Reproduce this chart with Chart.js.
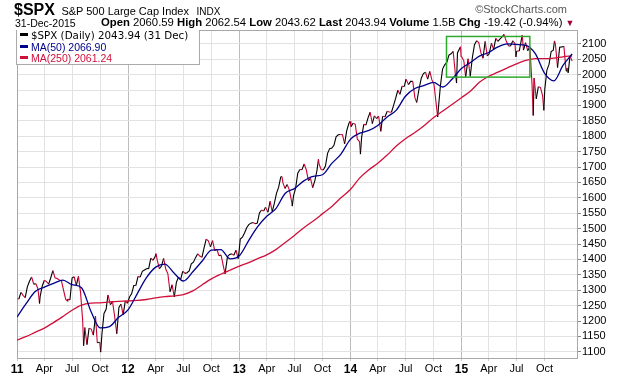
<!DOCTYPE html>
<html>
<head>
<meta charset="utf-8">
<script src="https://cdn.jsdelivr.net/npm/chart.js@4.4.1/dist/chart.umd.min.js"></script>
<style>
  html, body { margin: 0; padding: 0; background: #fff; }
  #wrap { position: relative; width: 620px; height: 376px; font-family: "Liberation Sans", Arial, sans-serif; color: #000; }
  #wrap canvas { position: absolute; left: 0; top: 0; }
  .t { position: absolute; white-space: nowrap; }
  .legend { position: absolute; left: 16px; top: 30px; width: 182px; height: 34px; background: #fff;
            border: 1px solid #aaa; border-top: none; }
  .legend div { height: 11.5px; line-height: 11.5px; white-space: nowrap; }
  .legend i { display: inline-block; width: 8px; height: 3px; margin: 0 3px 0 3px; vertical-align: 3px; }
</style>
</head>
<body>
<div id="wrap">
  <canvas id="chart" width="620" height="376"></canvas>
  <div class="t" style="left:14px; top:1px;">
    <b style="font-size:16px">$SPX</b>
    <span style="font-size:11px; margin-left:2px">S&amp;P 500 Large Cap Index</span>
    <span style="font-size:10px; margin-left:3px">INDX</span>
  </div>
  <div class="t" style="right:53px; top:3px; font-size:11px; color:#555;">&copy;StockCharts.com</div>
  <div class="t" style="left:15px; top:17px; font-size:10.5px;">31-Dec-2015</div>
  <div class="t" style="left:101px; top:16px; font-size:11.3px;">
    <b>Open</b> 2060.59 <b>High</b> 2062.54 <b>Low</b> 2043.62 <b>Last</b> 2043.94 <b>Volume</b> 1.5B <b>Chg</b> -19.42 (-0.94%) <span style="color:#a00033;font-size:9px">&#9660;</span>
  </div>
  <div class="legend">
    <div style="font-family:'DejaVu Sans',sans-serif; font-size:10.3px;"><i style="background:#000"></i>$SPX (Daily) 2043.94 (31 Dec)</div>
    <div style="font-size:10.5px; color:#00008b;"><i style="background:#00008b"></i>MA(50) 2066.90</div>
    <div style="font-size:10.5px; color:#d0103a;"><i style="background:#d0103a"></i>MA(250) 2061.24</div>
  </div>
</div>
<script>
// daily closes (weekly samples plus turning points)
const priceDates = [
  '2011-01-03','2011-01-07','2011-01-14','2011-01-21','2011-01-28','2011-02-04','2011-02-11','2011-02-18','2011-02-25',
  '2011-03-04','2011-03-11','2011-03-16','2011-03-18','2011-03-25','2011-04-01','2011-04-08','2011-04-15','2011-04-21',
  '2011-04-29','2011-05-06','2011-05-13','2011-05-20','2011-05-27','2011-06-03','2011-06-10','2011-06-15','2011-06-17',
  '2011-06-24','2011-07-01','2011-07-08','2011-07-15','2011-07-22','2011-07-29','2011-08-05','2011-08-08','2011-08-12',
  '2011-08-19','2011-08-26','2011-09-02','2011-09-09','2011-09-16','2011-09-22','2011-09-30','2011-10-03','2011-10-07',
  '2011-10-14','2011-10-21','2011-10-27','2011-11-04','2011-11-11','2011-11-18','2011-11-25','2011-12-02','2011-12-09',
  '2011-12-16','2011-12-23','2011-12-30',
  '2012-01-06','2012-01-13','2012-01-20','2012-01-27','2012-02-03','2012-02-10','2012-02-17','2012-02-24','2012-03-02',
  '2012-03-09','2012-03-16','2012-03-23','2012-03-30','2012-04-02','2012-04-06','2012-04-13','2012-04-20','2012-04-27',
  '2012-05-04','2012-05-11','2012-05-18','2012-05-25','2012-06-01','2012-06-08','2012-06-15','2012-06-22','2012-06-29',
  '2012-07-06','2012-07-13','2012-07-20','2012-07-27','2012-08-03','2012-08-10','2012-08-17','2012-08-24','2012-08-31',
  '2012-09-07','2012-09-14','2012-09-21','2012-09-28','2012-10-05','2012-10-12','2012-10-19','2012-10-26','2012-11-02',
  '2012-11-09','2012-11-15','2012-11-23','2012-11-30','2012-12-07','2012-12-14','2012-12-21','2012-12-28','2012-12-31',
  '2013-01-04','2013-01-11','2013-01-18','2013-01-25','2013-02-01','2013-02-08','2013-02-15','2013-02-22','2013-03-01',
  '2013-03-08','2013-03-15','2013-03-22','2013-03-28','2013-04-05','2013-04-12','2013-04-19','2013-04-26','2013-05-03',
  '2013-05-10','2013-05-17','2013-05-21','2013-05-24','2013-05-31','2013-06-07','2013-06-14','2013-06-21','2013-06-24',
  '2013-06-28','2013-07-05','2013-07-12','2013-07-19','2013-07-26','2013-08-02','2013-08-09','2013-08-16','2013-08-23',
  '2013-08-30','2013-09-06','2013-09-13','2013-09-18','2013-09-20','2013-09-27','2013-10-04','2013-10-11','2013-10-18',
  '2013-10-25','2013-11-01','2013-11-08','2013-11-15','2013-11-22','2013-11-29','2013-12-06','2013-12-13','2013-12-20',
  '2013-12-27','2013-12-31',
  '2014-01-03','2014-01-10','2014-01-17','2014-01-24','2014-01-31','2014-02-03','2014-02-07','2014-02-14','2014-02-21',
  '2014-02-28','2014-03-07','2014-03-14','2014-03-21','2014-03-28','2014-04-04','2014-04-11','2014-04-17','2014-04-25',
  '2014-05-02','2014-05-09','2014-05-16','2014-05-23','2014-05-30','2014-06-06','2014-06-13','2014-06-20','2014-06-27',
  '2014-07-03','2014-07-11','2014-07-18','2014-07-25','2014-08-01','2014-08-07','2014-08-15','2014-08-22','2014-08-29',
  '2014-09-05','2014-09-12','2014-09-19','2014-09-26','2014-10-03','2014-10-10','2014-10-15','2014-10-17','2014-10-24',
  '2014-10-31','2014-11-07','2014-11-14','2014-11-21','2014-11-28','2014-12-05','2014-12-12','2014-12-16','2014-12-19',
  '2014-12-29','2014-12-31',
  '2015-01-02','2015-01-09','2015-01-15','2015-01-23','2015-01-30','2015-02-06','2015-02-13','2015-02-20','2015-02-27',
  '2015-03-06','2015-03-13','2015-03-20','2015-03-27','2015-04-02','2015-04-10','2015-04-17','2015-04-24','2015-05-01',
  '2015-05-08','2015-05-15','2015-05-21','2015-05-29','2015-06-05','2015-06-12','2015-06-19','2015-06-26','2015-06-29',
  '2015-07-02','2015-07-10','2015-07-20','2015-07-24','2015-07-31','2015-08-07','2015-08-14','2015-08-21','2015-08-25',
  '2015-08-28','2015-09-04','2015-09-11','2015-09-18','2015-09-25','2015-09-29','2015-10-02','2015-10-09','2015-10-16',
  '2015-10-23','2015-10-30','2015-11-03','2015-11-06','2015-11-13','2015-11-20','2015-11-27','2015-12-04','2015-12-11',
  '2015-12-14','2015-12-18','2015-12-24','2015-12-31'
];
const priceClose = [
  1271.9,1271.5,1293.2,1283.4,1276.3,1310.9,1329.2,1343.0,1319.9,
  1321.2,1304.3,1256.9,1279.2,1313.8,1332.4,1328.2,1319.7,1337.4,
  1363.6,1340.2,1337.8,1333.3,1331.1,1300.2,1271.0,1265.4,1271.5,
  1268.5,1339.7,1343.8,1316.1,1345.0,1292.3,1199.4,1119.5,1178.8,
  1123.5,1176.8,1174.0,1154.2,1216.0,1129.6,1131.4,1099.2,1155.5,
  1224.6,1238.3,1284.6,1253.2,1263.9,1215.7,1158.7,1244.3,1255.2,
  1219.7,1265.3,1257.6,
  1277.8,1289.1,1315.4,1316.3,1344.9,1342.6,1361.2,1365.7,1369.6,
  1370.9,1404.2,1397.1,1408.5,1419.0,1398.1,1370.3,1378.5,1403.4,
  1369.1,1353.4,1295.2,1317.8,1278.0,1325.7,1342.8,1335.0,1362.2,
  1354.7,1356.8,1362.7,1386.0,1391.0,1405.9,1418.2,1411.1,1406.6,
  1437.9,1465.8,1460.2,1440.7,1460.9,1428.6,1433.2,1411.9,1414.2,
  1379.9,1353.3,1409.2,1416.2,1418.1,1413.6,1430.2,1402.4,1426.2,
  1466.5,1472.1,1486.0,1503.0,1513.2,1517.9,1519.8,1515.6,1518.2,
  1551.2,1560.7,1556.9,1569.2,1553.3,1588.9,1555.3,1582.2,1614.4,
  1633.7,1667.5,1669.2,1649.6,1630.7,1643.4,1626.7,1592.4,1573.1,
  1606.3,1631.9,1680.2,1692.1,1691.7,1709.7,1691.4,1655.8,1663.5,
  1633.0,1655.2,1688.0,1725.5,1709.9,1691.8,1690.5,1703.2,1744.5,
  1759.8,1761.6,1770.6,1798.2,1804.8,1805.8,1805.1,1775.3,1818.3,
  1841.4,1848.4,
  1831.4,1842.4,1838.7,1790.3,1782.6,1741.9,1797.0,1838.6,1836.3,
  1859.5,1878.0,1841.1,1866.5,1857.6,1865.1,1815.7,1864.9,1863.4,
  1881.1,1878.5,1877.9,1900.5,1923.6,1949.4,1936.2,1962.9,1961.0,
  1985.4,1967.6,1978.2,1978.3,1925.2,1909.6,1955.1,1988.4,2003.4,
  2007.7,1985.5,2010.4,1982.9,1967.9,1906.1,1862.5,1886.8,1964.6,
  2018.1,2031.9,2039.8,2063.5,2067.6,2075.4,2002.3,1972.7,2070.7,
  2090.6,2058.9,
  2058.2,2044.8,1992.7,2051.8,1995.0,2055.5,2097.0,2110.3,2104.5,
  2071.3,2053.4,2108.1,2061.0,2067.0,2102.1,2081.2,2117.7,2108.3,
  2116.1,2122.7,2130.8,2107.4,2092.8,2094.1,2110.0,2101.5,2057.6,
  2076.8,2076.6,2128.3,2079.7,2103.8,2077.6,2091.5,1970.9,1867.6,
  1988.9,1921.2,1961.1,1958.0,1931.3,1884.1,1951.4,2014.9,2033.1,
  2075.2,2079.4,2109.8,2099.2,2023.0,2089.2,2090.1,2091.7,2012.4,
  2021.9,2005.6,2061.0,2043.9
];

// moving averages, sampled monthly from the chart
const maDates = [
  '2011-01-01','2011-02-01','2011-03-01','2011-04-01','2011-05-01','2011-06-01','2011-07-01','2011-08-01','2011-09-01','2011-10-01','2011-11-01','2011-12-01',
  '2012-01-01','2012-02-01','2012-03-01','2012-04-01','2012-05-01','2012-06-01','2012-07-01','2012-08-01','2012-09-01','2012-10-01','2012-11-01','2012-12-01',
  '2013-01-01','2013-02-01','2013-03-01','2013-04-01','2013-05-01','2013-06-01','2013-07-01','2013-08-01','2013-09-01','2013-10-01','2013-11-01','2013-12-01',
  '2014-01-01','2014-02-01','2014-03-01','2014-04-01','2014-05-01','2014-06-01','2014-07-01','2014-08-01','2014-09-01','2014-10-01','2014-11-01','2014-12-01',
  '2015-01-01','2015-02-01','2015-03-01','2015-04-01','2015-05-01','2015-06-01','2015-07-01','2015-08-01','2015-09-01','2015-10-01','2015-11-01','2015-12-01',
  '2015-12-31'
];
const ma50 = [
  1213,1258,1295,1310,1322,1333,1318,1308,1232,1178,1182,1212,
  1236,1290,1340,1375,1385,1355,1330,1360,1395,1430,1432,1402,
  1412,1462,1505,1540,1565,1615,1630,1655,1670,1675,1712,1742,
  1790,1810,1818,1835,1862,1885,1930,1955,1965,1975,1960,1985,
  2020,2040,2060,2072,2090,2100,2098,2095,2068,2005,1980,2030,
  2067
];
const ma250 = [
  1138,1150,1163,1177,1195,1215,1235,1252,1258,1259,1262,1264,
  1265,1267,1270,1275,1279,1282,1286,1298,1318,1337,1352,1365,
  1378,1390,1402,1415,1432,1455,1478,1503,1525,1548,1572,1600,
  1627,1665,1690,1712,1738,1768,1792,1812,1835,1860,1882,1903,
  1925,1948,1975,1995,2008,2022,2035,2046,2052,2052,2054,2058,
  2061
];

// axis ticks
const xTickDates = [
  '2011-01-01','2011-04-01','2011-07-01','2011-10-01','2012-01-01','2012-04-01','2012-07-01','2012-10-01',
  '2013-01-01','2013-04-01','2013-07-01','2013-10-01','2014-01-01','2014-04-01','2014-07-01','2014-10-01',
  '2015-01-01','2015-04-01','2015-07-01','2015-10-01'
];
const xTickLabels = ['11','Apr','Jul','Oct','12','Apr','Jul','Oct','13','Apr','Jul','Oct','14','Apr','Jul','Oct','15','Apr','Jul','Oct'];
const yTicks = [1100,1150,1200,1250,1300,1350,1400,1450,1500,1550,1600,1650,1700,1750,1800,1850,1900,1950,2000,2050,2100];

// green annotation box
const boxFrom = '2014-11-13', boxTo = '2015-08-14', boxLow = 1992, boxHigh = 2124;

const dayNum = s => {
  const [y, m, d] = s.split('-').map(Number);
  return (Date.UTC(y, m - 1, d) - Date.UTC(2011, 0, 1)) / 86400000;
};

const pricePoints = priceDates.map((d, i) => ({ x: dayNum(d), y: priceClose[i] }));
const ma50Points = maDates.map((d, i) => ({ x: dayNum(d), y: ma50[i] }));
const ma250Points = maDates.map((d, i) => ({ x: dayNum(d), y: ma250[i] }));

const extras = {
  id: 'extras',
  beforeDatasetsDraw(chart) {
    const { ctx, chartArea: a } = chart;
    ctx.save();
    ctx.strokeStyle = '#a8a8a8';
    ctx.lineWidth = 1;
    ctx.strokeRect(Math.round(a.left) + 0.5, Math.round(a.top) + 0.5, a.width, a.height);
    ctx.restore();
  },
  afterDatasetsDraw(chart) {
    const { ctx, scales: { x, y } } = chart;
    const x0 = x.getPixelForValue(dayNum(boxFrom)), x1 = x.getPixelForValue(dayNum(boxTo));
    const y0 = y.getPixelForValue(boxHigh), y1 = y.getPixelForValue(boxLow);
    ctx.save();
    ctx.strokeStyle = '#2eaa2e';
    ctx.lineWidth = 1.5;
    ctx.strokeRect(x0, y0, x1 - x0, y1 - y0);
    ctx.restore();
  }
};

new Chart(document.getElementById('chart').getContext('2d'), {
  type: 'line',
  data: {
    datasets: [
      {
        label: '$SPX (Daily)',
        data: pricePoints,
        borderWidth: 1.1,
        borderColor: '#000',
        segment: {
          borderColor: c => (c.p1.parsed.y >= c.p0.parsed.y ? '#000' : '#cc0033')
        },
        pointRadius: 0,
        tension: 0,
        order: 2
      },
      {
        label: 'MA(50)',
        data: ma50Points,
        borderWidth: 1.3,
        borderColor: '#00008b',
        pointRadius: 0,
        cubicInterpolationMode: 'monotone',
        order: 0
      },
      {
        label: 'MA(250)',
        data: ma250Points,
        borderWidth: 1.3,
        borderColor: '#d0103a',
        pointRadius: 0,
        cubicInterpolationMode: 'monotone',
        order: 1
      }
    ]
  },
  options: {
    responsive: false,
    animation: false,
    layout: { padding: { left: 17, top: 30, right: 0, bottom: 0 } },
    plugins: { legend: { display: false }, tooltip: { enabled: false } },
    scales: {
      x: {
        type: 'linear',
        min: 0,
        max: 1841,
        afterBuildTicks: s => { s.ticks = xTickDates.map(d => ({ value: dayNum(d) })); },
        afterFit: s => { s.height = 18; },
        ticks: {
          autoSkip: false,
          maxRotation: 0,
          padding: 1,
          color: '#000',
          callback: (v, i) => xTickLabels[i],
          font: c => (c.index % 4 === 0
            ? { family: 'Liberation Sans', size: 12, weight: 'bold' }
            : { family: 'Liberation Sans', size: 11 })
        },
        grid: {
          color: c => (c.index % 4 === 0 ? '#bcbcbc' : '#e2e2e2'),
          tickLength: 3,
          tickColor: '#ccc'
        },
        border: { color: '#a8a8a8' }
      },
      y: {
        position: 'right',
        min: 1080,
        max: 2145,
        afterBuildTicks: s => { s.ticks = yTicks.map(v => ({ value: v })); },
        afterFit: s => { s.width = 43; },
        ticks: {
          padding: 1,
          color: '#000',
          font: { family: 'Liberation Sans', size: 11 },
          callback: v => String(v)
        },
        grid: { color: '#e2e2e2', tickLength: 4, tickColor: '#888' },
        border: { color: '#a8a8a8' }
      }
    }
  },
  plugins: [extras]
});
</script>
</body>
</html>
